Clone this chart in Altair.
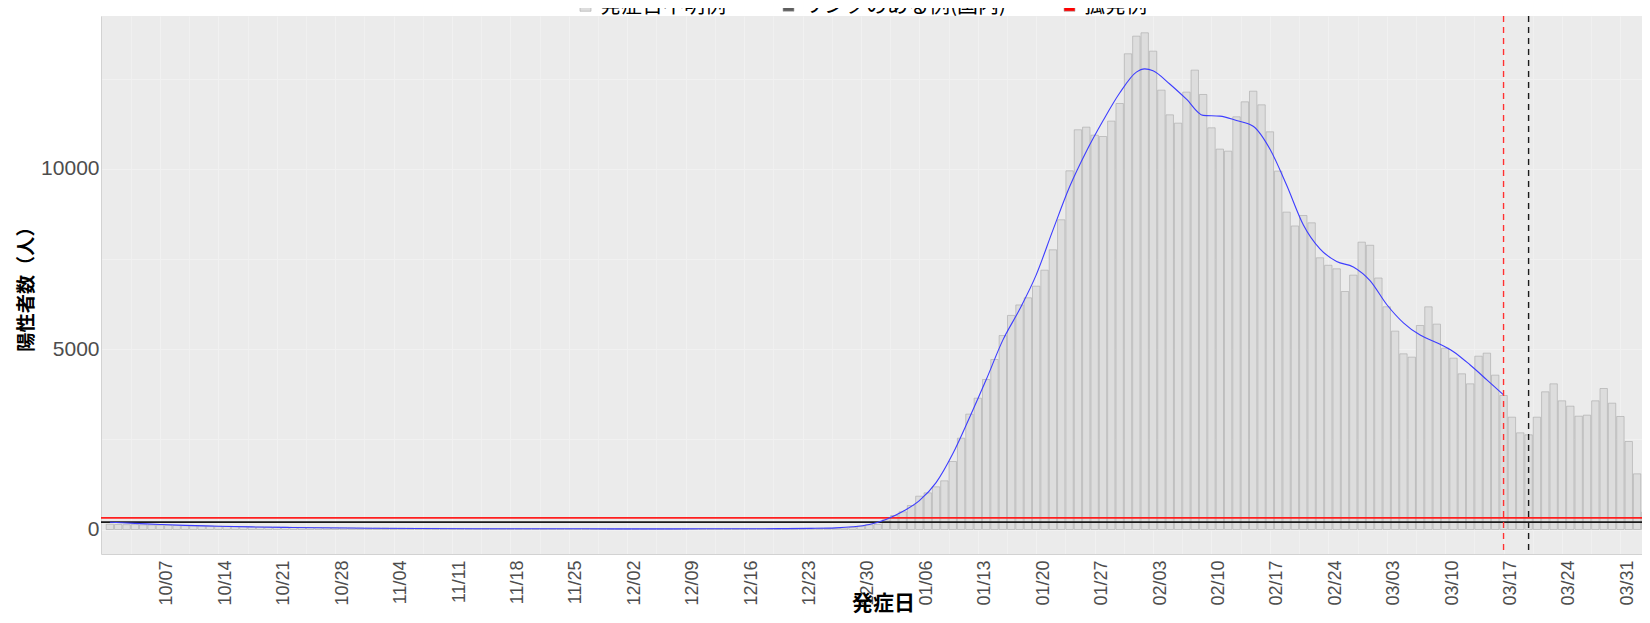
import altair as alt
import pandas as pd

# ---------------- data ----------------
BASE_DATE = "2021-10-01"
# daily positives by onset date, 2021-10-01 .. 2022-04-03 (onset-unknown category)
UNKNOWN_CASES = [
    145, 140, 135, 138, 130, 125, 120,
    115, 112, 105, 100, 98, 95, 90,
    85, 82, 80, 75, 72, 70, 66,
    64, 60, 58, 55, 54, 50, 48,
    46, 45, 43, 40, 40, 38, 36,
    35, 34, 32, 31, 30, 30, 29,
    28, 27, 26, 25, 25, 24, 24,
    23, 22, 22, 21, 21, 20, 20,
    20, 19, 19, 18, 18, 18, 18,
    18, 18, 19, 19, 19, 20, 20,
    20, 21, 21, 22, 22, 23, 24,
    25, 25, 26, 27, 28, 29, 30,
    31, 33, 35, 37, 42, 60, 92,
    129, 140, 268, 388, 490, 665, 924,
    1016, 1183, 1349, 1885, 2532, 3198, 3641,
    4159, 4713, 5378, 5935, 6225, 6423, 6746,
    7189, 7754, 8586, 9944, 11081, 11154, 10932,
    10895, 11321, 11810, 13188, 13677, 13770, 13261,
    12180, 11496, 11265, 12125, 12735, 12060, 11136,
    10545, 10489, 11441, 11857, 12152, 11773, 11025,
    9935, 8798, 8415, 8705, 8502, 7532, 7325,
    7227, 6598, 7051, 7966, 7880, 6972, 6174,
    5499, 4870, 4778, 5656, 6173, 5693, 5027,
    4750, 4316, 4038, 4805, 4889, 4279, 3715,
    3114, 2680, 2625, 3114, 3817, 4038, 3567,
    3419, 3142, 3170, 3567, 3909, 3502, 3133,
    2440, 1543, 481,
]

CATEGORIES = ["発症日不明例", "リンクのある例(国内)", "孤発例"]
CATEGORY_COLORS = ["#DDDDDD", "#5E5E5E", "#FF0000"]

SMOOTH_DATES = [
    "2021-10-01", "2021-10-04", "2021-10-07", "2021-10-10", "2021-10-14",
    "2021-10-18", "2021-10-22", "2021-10-26", "2021-11-01", "2021-11-07",
    "2021-11-14", "2021-11-21", "2021-11-27", "2021-12-04", "2021-12-11",
    "2021-12-17", "2021-12-21", "2021-12-24", "2021-12-27", "2021-12-29",
    "2021-12-31", "2022-01-02", "2022-01-04", "2022-01-06", "2022-01-08",
    "2022-01-10", "2022-01-12", "2022-01-14", "2022-01-16", "2022-01-18",
    "2022-01-20", "2022-01-22", "2022-01-24", "2022-01-26", "2022-01-28",
    "2022-01-30", "2022-02-01", "2022-02-02", "2022-02-03", "2022-02-05",
    "2022-02-07", "2022-02-09", "2022-02-11", "2022-02-13", "2022-02-15",
    "2022-02-17", "2022-02-19", "2022-02-21", "2022-02-23", "2022-02-25",
    "2022-02-27", "2022-03-01", "2022-03-03", "2022-03-05", "2022-03-07",
    "2022-03-09", "2022-03-11", "2022-03-13", "2022-03-15", "2022-03-17",
]
SMOOTH_VALUES = [
    200, 170, 140, 115, 92,
    72, 58, 47, 36, 28,
    23, 20, 19, 18, 19,
    21, 25, 31, 45, 75,
    140, 280, 500, 800, 1300,
    2100, 3100, 4150, 5250, 6100,
    7060, 8300, 9500, 10480, 11330,
    12100, 12680, 12770, 12720, 12350,
    11930, 11480, 11460, 11340, 11180,
    10550, 9550, 8450, 7780, 7430,
    7280, 6900, 6238, 5730, 5390,
    5180, 4930, 4560, 4150, 3730,
]

TICK_DATES = [
    "2021-10-07", "2021-10-14", "2021-10-21", "2021-10-28", "2021-11-04",
    "2021-11-11", "2021-11-18", "2021-11-25", "2021-12-02", "2021-12-09",
    "2021-12-16", "2021-12-23", "2021-12-30", "2022-01-06", "2022-01-13",
    "2022-01-20", "2022-01-27", "2022-02-03", "2022-02-10", "2022-02-17",
    "2022-02-24", "2022-03-03", "2022-03-10", "2022-03-17", "2022-03-24",
    "2022-03-31",
]
Y_TICKS = [0, 2500, 5000, 7500, 10000, 12500]

HLINE_VALUES = [324, 202]
HLINE_COLORS = ["#FF1F1F", "#1A1A1A"]
VLINE_DATES = ["2022-03-17", "2022-03-20"]
VLINE_COLORS = ["#FF3030", "#1A1A1A"]

# ---------------- layout constants ----------------
X_DOMAIN_DAYS = (-0.464, 182.99)   # offsets from BASE_DATE for the panel edges
Y_DOMAIN = [-679, 14236]
JP = "Noto Sans CJK JP"
NUM = "Liberation Sans"
PANEL = "#EBEBEB"
GRID = "#F1F1F1"


def ms(ts):
    """UTC epoch milliseconds of a date (string or Timestamp)."""
    return int(pd.Timestamp(ts).tz_localize("UTC").timestamp() * 1000)


base = pd.Timestamp(BASE_DATE)
x_domain = [ms(base + pd.Timedelta(days=X_DOMAIN_DAYS[0])),
            ms(base + pd.Timedelta(days=X_DOMAIN_DAYS[1]))]
major = [ms(d) for d in TICK_DATES]
half_week = int(3.5 * 86400000)
minor = [major[0] - half_week] + [m + half_week for m in major]

dates = pd.date_range(BASE_DATE, periods=len(UNKNOWN_CASES), freq="D")
bar_df = pd.DataFrame({
    "date": [ms(d) for d in dates],
    "value": UNKNOWN_CASES,
    "category": CATEGORIES[0],
})
smooth_df = pd.DataFrame({"date": [ms(d) for d in SMOOTH_DATES],
                          "value": SMOOTH_VALUES})

x_scale = alt.Scale(type="utc", domain=x_domain, nice=False)
y_scale = alt.Scale(domain=Y_DOMAIN, nice=False, zero=False)

x_axis = alt.Axis(
    values=major,
    labelExpr="utcFormat(datum.value, '%m/%d')",
    labelAngle=270, labelAlign="right", labelBaseline="middle",
    labelOffset=7, labelPadding=6, labelFontSize=18, labelFont=NUM,
    labelColor="#4D4D4D", labelOverlap=False, labelFlush=False,
    ticks=False, tickSize=0,
    domain=True, domainColor="#D2D2D2", domainWidth=1,
    grid=True, gridColor=GRID, gridWidth=1,
    title="発症日", titleFont=JP, titleFontSize=21, titleFontWeight="bold",
    titleColor="#000000", titleX=782, titleY=49, titleBaseline="middle",
    titleAlign="center", titleAnchor="start",
)
# second (label-less) axis only to draw the half-week minor grid
x_minor_axis = alt.Axis(
    orient="top", values=minor, labels=False, ticks=False, domain=False,
    grid=True, gridColor=GRID, gridWidth=0.8, title=None,
)
y_axis = alt.Axis(
    values=Y_TICKS, format="d",
    labelExpr="datum.value % 5000 == 0 ? datum.label : ''",
    labelFontSize=21, labelFont=NUM, labelColor="#4D4D4D", labelPadding=2,
    ticks=False, tickSize=0,
    domain=True, domainColor="#D2D2D2", domainWidth=1,
    grid=True, gridColor=GRID, gridWidth=1,
    title="陽性者数（人）", titleFont=JP, titleFontSize=19.2, titleFontWeight="bold",
    titleColor="#000000", titleAngle=270, titleX=-75, titleY=268,
    titleAlign="center", titleBaseline="middle", titleAnchor="start",
)

bars = alt.Chart(bar_df).mark_bar(
    size=7.4, stroke="#A8A8A8", strokeWidth=0.6, clip=True
).encode(
    x=alt.X("date:T", scale=x_scale, axis=x_axis),
    y=alt.Y("value:Q", scale=y_scale, axis=y_axis, stack="zero"),
    color=alt.Color(
        "category:N",
        scale=alt.Scale(domain=CATEGORIES, range=CATEGORY_COLORS),
        legend=alt.Legend(
            orient="none", legendX=474, legendY=-21, direction="horizontal",
            title=None, symbolType="square", symbolSize=121,
            symbolStrokeColor="#A8A8A8", symbolStrokeWidth=0.6,
            labelFont=JP, labelFontSize=21, labelColor="#000000",
            labelLimit=500, columnPadding=52, padding=0, labelOffset=4,
        ),
    ),
)

hlines = [
    alt.Chart(pd.DataFrame({"value": [v]})).mark_rule(color=c, strokeWidth=1.8)
    .encode(y=alt.Y("value:Q", scale=y_scale))
    for v, c in zip(HLINE_VALUES, HLINE_COLORS)
]

smooth = alt.Chart(smooth_df).mark_line(
    color="#3D3DFF", strokeWidth=1.1, interpolate="monotone", clip=True
).encode(
    x=alt.X("date:T", scale=x_scale, axis=x_minor_axis),
    y=alt.Y("value:Q", scale=y_scale),
)

vlines = [
    alt.Chart(pd.DataFrame({"date": [ms(d)]})).mark_rule(
        color=c, strokeWidth=1.4, strokeDash=[6, 5]
    ).encode(x=alt.X("date:T", scale=x_scale, axis=None))
    for d, c in zip(VLINE_DATES, VLINE_COLORS)
]

chart = alt.layer(bars, *hlines, smooth, *vlines).resolve_axis(
    x="independent"
).properties(
    width=1541, height=538,
    autosize=alt.AutoSizeParams(type="none"),
    padding={"left": 93, "top": 8, "right": 0, "bottom": 61},
    background="#FFFFFF",
).configure_view(fill=PANEL, stroke=None)

chart.save("out.html", embed_options={"renderer": "svg", "actions": False})
